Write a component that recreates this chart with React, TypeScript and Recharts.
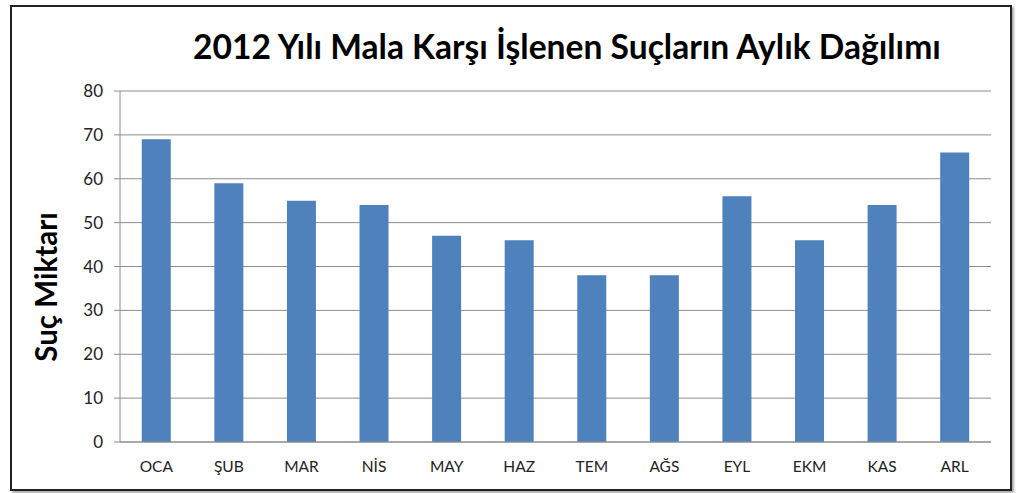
import { BarChart, Bar, XAxis, YAxis, CartesianGrid } from 'recharts';

const months = ['OCA', 'ŞUB', 'MAR', 'NİS', 'MAY', 'HAZ', 'TEM', 'AĞS', 'EYL', 'EKM', 'KAS', 'ARL'];
const crimeCounts = [69, 59, 55, 54, 47, 46, 38, 38, 56, 46, 54, 66];
const yTicks = [0, 10, 20, 30, 40, 50, 60, 70, 80];
const boundaryTicks = [0, 1, 2, 3, 4, 5, 6, 7, 8, 9, 10, 11, 12];

const chartData = months.map((month, i) => ({ month, value: crimeCounts[i] }));

const FONT = 'Lato, "Open Sans", sans-serif';
const AXIS_GRAY = '#8c8c8c';

export default function App() {
  return (
    <div style={{ position: 'absolute', left: 0, top: 0, width: 1017, height: 493, background: '#fff', fontFamily: FONT }}>
      <div
        style={{
          position: 'absolute',
          left: 10,
          top: 5,
          width: 998,
          height: 482,
          border: '2px solid #222',
          boxShadow: '2px 2px 2px #aaa',
        }}
      />
      <div
        style={{
          position: 'absolute',
          left: 120,
          width: 894,
          top: 26,
          textAlign: 'center',
          fontSize: 33.6,
          lineHeight: '40px',
          fontWeight: 700,
          color: '#000',
          whiteSpace: 'nowrap',
        }}
      >
        2012 Yılı Mala Karşı İşlenen Suçların Aylık Dağılımı
      </div>
      <div
        style={{
          position: 'absolute',
          left: 45,
          top: 287,
          transform: 'translate(-50%, -50%) rotate(-90deg)',
          fontSize: 29.5,
          fontWeight: 700,
          color: '#000',
          whiteSpace: 'nowrap',
        }}
      >
        Suç Miktarı
      </div>
      <div style={{ position: 'absolute', left: 0, top: 0 }}>
        <BarChart
          width={1017}
          height={493}
          data={chartData}
          margin={{ top: 91, right: 26, left: 0, bottom: 21 }}
          barCategoryGap="30%"
        >
          <CartesianGrid horizontal vertical={false} stroke={AXIS_GRAY} strokeWidth={1} />
          <XAxis
            xAxisId="edges"
            type="number"
            domain={[0, 12]}
            ticks={boundaryTicks}
            allowDataOverflow
            height={0}
            axisLine={false}
            tickSize={6}
            tickLine={{ stroke: AXIS_GRAY }}
            tickFormatter={() => ''}
          />
          <XAxis
            dataKey="month"
            height={30}
            axisLine={{ stroke: AXIS_GRAY }}
            tickLine={false}
            tickMargin={13}
            tick={{ fill: '#222', fontSize: 15.5, fontFamily: FONT }}
            interval={0}
          />
          <YAxis
            width={120}
            domain={[0, 80]}
            ticks={yTicks}
            interval={0}
            axisLine={{ stroke: AXIS_GRAY }}
            tickLine={{ stroke: AXIS_GRAY }}
            tickSize={6}
            tickMargin={11}
            tick={{ fill: '#222', fontSize: 17, fontFamily: FONT }}
          />
          <Bar dataKey="value" fill="#4F81BD" isAnimationActive={false} />
        </BarChart>
      </div>
    </div>
  );
}
